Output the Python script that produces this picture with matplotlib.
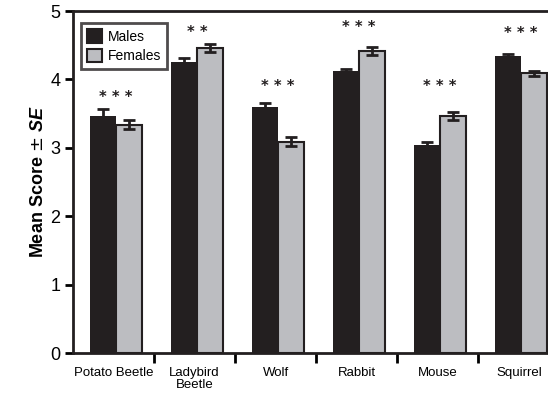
import matplotlib.pyplot as plt
import numpy as np

plt.rcParams['font.family'] = ['Liberation Sans Narrow', 'Liberation Sans', 'DejaVu Sans']
plt.rcParams['mathtext.fontset'] = 'custom'
plt.rcParams['mathtext.bfit'] = 'Liberation Sans:bold:italic'

# mean scores and standard errors per animal
animals = ["Potato Beetle", "Ladybird\nBeetle", "Wolf", "Rabbit", "Mouse", "Squirrel"]
males = [3.47, 4.25, 3.59, 4.12, 3.04, 4.34]
males_se = [0.10, 0.06, 0.07, 0.03, 0.04, 0.03]
females = [3.34, 4.46, 3.09, 4.41, 3.46, 4.09]
females_se = [0.07, 0.06, 0.07, 0.06, 0.06, 0.04]
stars = ["***", "**", "***", "***", "***", "***"]
star_y = [3.80, 4.75, 3.97, 4.83, 3.97, 4.74]

x = np.arange(len(animals))
w = 0.32

fig = plt.figure(figsize=(5.48, 4.00), dpi=100)
ax = fig.add_axes([0.133, 0.1175, 0.867, 0.855])

ax.bar(x - w / 2 + 0.03, males, w, color='#231f20', label='Males',
       yerr=males_se, error_kw=dict(ecolor='#231f20', capsize=4, elinewidth=2, capthick=2))
ax.bar(x + w / 2 + 0.03, females, w, color='#bcbdc1', edgecolor='#231f20', linewidth=1.5,
       label='Females',
       yerr=females_se, error_kw=dict(ecolor='#231f20', capsize=4, elinewidth=2, capthick=2))

# significance stars above each pair
for xi, s, sy in zip(x, stars, star_y):
    ax.text(xi + 0.03, sy - 0.07, " ".join(s), ha='center', va='center', fontsize=10.5,
            fontweight='bold', color='#231f20', family='DejaVu Sans')

ax.set_xlim(-0.5, 5.36)
ax.set_ylim(0, 5)
ax.set_yticks([0, 1, 2, 3, 4, 5])
ax.set_xticks(x)
ax.set_xticklabels(animals, fontsize=9.5, linespacing=1.0)
ax.set_xticks(np.arange(0.5, 5.5, 1), minor=True)
ax.tick_params(axis='x', which='major', length=0, pad=10)
ax.tick_params(axis='x', which='minor', length=7, width=2, direction='out')
ax.tick_params(axis='y', length=6, width=2, labelsize=13, pad=3)

for s in ['left', 'bottom', 'top']:
    ax.spines[s].set_linewidth(2)
    ax.spines[s].set_color('#231f20')
ax.spines['right'].set_visible(False)

ax.set_ylabel(r'Mean Score $\pm$ $\mathbfit{SE}$', fontsize=13, fontweight='bold', labelpad=2)

leg = ax.legend(loc='upper left', fontsize=10, frameon=True, fancybox=False,
                edgecolor='#231f20', handlelength=1.1, handleheight=1.1,
                handletextpad=0.4, borderpad=0.45, labelspacing=0.35,
                bbox_to_anchor=(0.002, 0.985))
leg.get_frame().set_linewidth(2)
for h in leg.legend_handles:
    h.set_edgecolor('#231f20')
    h.set_linewidth(1.5)

fig.savefig("out.png", dpi=100)
